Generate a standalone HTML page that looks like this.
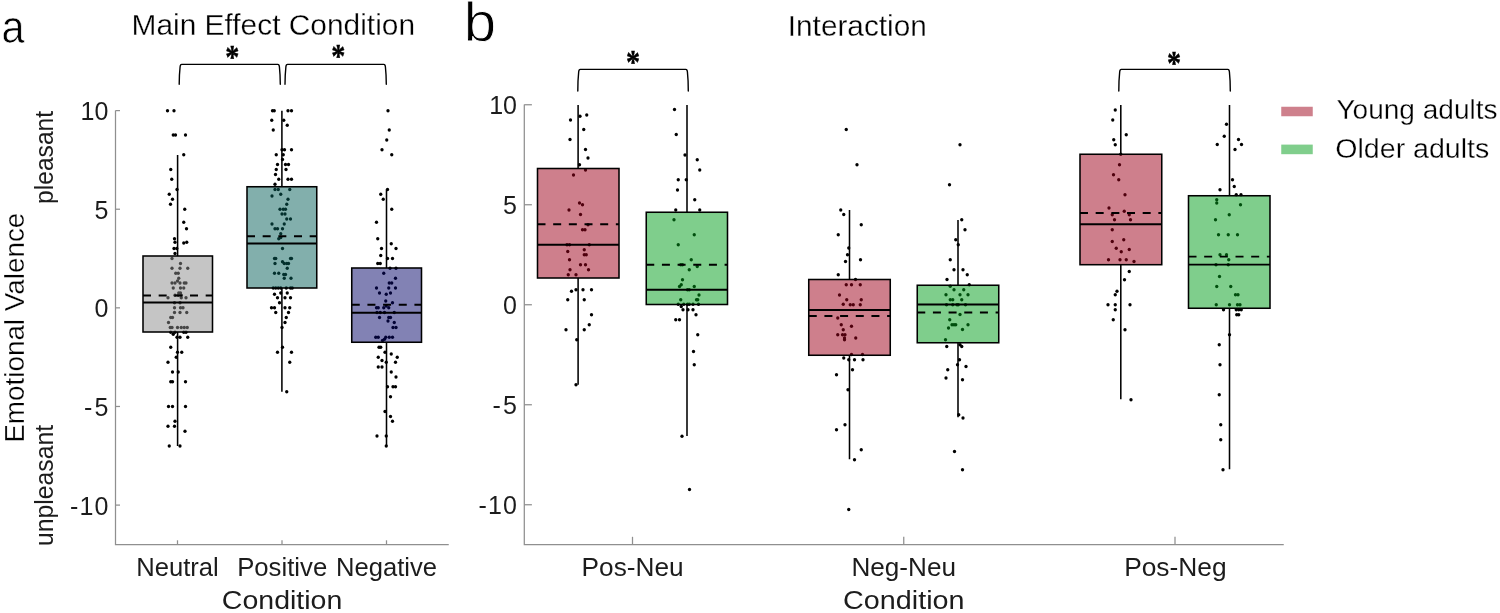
<!DOCTYPE html>
<html><head><meta charset="utf-8"><title>Emotional Valence</title>
<style>
html,body{margin:0;padding:0;background:#fff;}
body{width:1500px;height:613px;overflow:hidden;}
svg{display:block;font-family:"Liberation Sans",Arial,Helvetica,sans-serif;}
</style></head><body>
<svg width="1500" height="613" viewBox="0 0 1500 613">
<rect width="1500" height="613" fill="#fff"/>
<g id="axes"><path d="M115.5,110.6 V544.6 H448.75" fill="none" stroke="#8f8f8f" stroke-width="1.25"/><line x1="115.5" x2="120" y1="110.60000000000002" y2="110.60000000000002" stroke="#8f8f8f" stroke-width="1.25"/><line x1="115.5" x2="120" y1="209.22500000000002" y2="209.22500000000002" stroke="#8f8f8f" stroke-width="1.25"/><line x1="115.5" x2="120" y1="307.85" y2="307.85" stroke="#8f8f8f" stroke-width="1.25"/><line x1="115.5" x2="120" y1="406.475" y2="406.475" stroke="#8f8f8f" stroke-width="1.25"/><line x1="115.5" x2="120" y1="505.1" y2="505.1" stroke="#8f8f8f" stroke-width="1.25"/><line x1="177.5" x2="177.5" y1="544.6" y2="540.3" stroke="#8f8f8f" stroke-width="1.25"/><line x1="282" x2="282" y1="544.6" y2="540.3" stroke="#8f8f8f" stroke-width="1.25"/><line x1="386.5" x2="386.5" y1="544.6" y2="540.3" stroke="#8f8f8f" stroke-width="1.25"/><path d="M524.3,104.6 V544.6 H1283.75" fill="none" stroke="#8f8f8f" stroke-width="1.25"/><line x1="524.3" x2="531.9" y1="104.75" y2="104.75" stroke="#8f8f8f" stroke-width="1.25"/><line x1="524.3" x2="531.9" y1="204.75" y2="204.75" stroke="#8f8f8f" stroke-width="1.25"/><line x1="524.3" x2="531.9" y1="304.75" y2="304.75" stroke="#8f8f8f" stroke-width="1.25"/><line x1="524.3" x2="531.9" y1="404.75" y2="404.75" stroke="#8f8f8f" stroke-width="1.25"/><line x1="524.3" x2="531.9" y1="504.75" y2="504.75" stroke="#8f8f8f" stroke-width="1.25"/><line x1="632.5" x2="632.5" y1="544.6" y2="536.8" stroke="#8f8f8f" stroke-width="1.25"/><line x1="903.75" x2="903.75" y1="544.6" y2="536.8" stroke="#8f8f8f" stroke-width="1.25"/><line x1="1175" x2="1175" y1="544.6" y2="536.8" stroke="#8f8f8f" stroke-width="1.25"/></g>
<g id="dots" fill="#000"><circle cx="167.50" cy="110.75" r="1.65"/><circle cx="174.00" cy="110.75" r="1.65"/><circle cx="173.25" cy="135.00" r="1.65"/><circle cx="175.50" cy="135.00" r="1.65"/><circle cx="185.50" cy="135.00" r="1.65"/><circle cx="183.75" cy="154.75" r="1.65"/><circle cx="170.75" cy="169.50" r="1.65"/><circle cx="171.75" cy="179.25" r="1.65"/><circle cx="177.00" cy="189.50" r="1.65"/><circle cx="272.50" cy="110.75" r="1.65"/><circle cx="274.25" cy="110.75" r="1.65"/><circle cx="288.00" cy="110.75" r="1.65"/><circle cx="291.50" cy="110.75" r="1.65"/><circle cx="271.75" cy="120.25" r="1.65"/><circle cx="283.75" cy="120.25" r="1.65"/><circle cx="287.25" cy="125.25" r="1.65"/><circle cx="273.25" cy="130.00" r="1.65"/><circle cx="282.00" cy="149.75" r="1.65"/><circle cx="284.50" cy="149.75" r="1.65"/><circle cx="291.50" cy="149.75" r="1.65"/><circle cx="276.25" cy="154.75" r="1.65"/><circle cx="283.25" cy="154.75" r="1.65"/><circle cx="282.50" cy="159.50" r="1.65"/><circle cx="277.50" cy="164.50" r="1.65"/><circle cx="285.50" cy="164.50" r="1.65"/><circle cx="288.50" cy="164.50" r="1.65"/><circle cx="276.25" cy="169.50" r="1.65"/><circle cx="286.00" cy="169.50" r="1.65"/><circle cx="275.50" cy="174.50" r="1.65"/><circle cx="278.75" cy="179.25" r="1.65"/><circle cx="288.00" cy="179.25" r="1.65"/><circle cx="291.50" cy="179.25" r="1.65"/><circle cx="275.00" cy="184.25" r="1.65"/><circle cx="275.00" cy="189.50" r="1.65"/><circle cx="278.25" cy="189.50" r="1.65"/><circle cx="289.75" cy="189.50" r="1.65"/><circle cx="388.00" cy="110.75" r="1.65"/><circle cx="389.25" cy="130.00" r="1.65"/><circle cx="386.75" cy="140.00" r="1.65"/><circle cx="382.00" cy="149.75" r="1.65"/><circle cx="391.75" cy="154.75" r="1.65"/><circle cx="387.50" cy="189.50" r="1.65"/><circle cx="169.25" cy="194.25" r="1.65"/><circle cx="172.50" cy="199.25" r="1.65"/><circle cx="170.50" cy="204.25" r="1.65"/><circle cx="184.75" cy="209.25" r="1.65"/><circle cx="183.75" cy="222.25" r="1.65"/><circle cx="186.50" cy="228.75" r="1.65"/><circle cx="174.50" cy="238.75" r="1.65"/><circle cx="175.00" cy="242.25" r="1.65"/><circle cx="183.75" cy="243.00" r="1.65"/><circle cx="186.75" cy="242.25" r="1.65"/><circle cx="174.00" cy="248.50" r="1.65"/><circle cx="176.75" cy="248.50" r="1.65"/><circle cx="175.00" cy="253.50" r="1.65"/><circle cx="172.00" cy="258.50" r="1.65"/><circle cx="180.50" cy="263.50" r="1.65"/><circle cx="172.00" cy="268.25" r="1.65"/><circle cx="180.00" cy="268.25" r="1.65"/><circle cx="187.75" cy="268.25" r="1.65"/><circle cx="175.75" cy="273.25" r="1.65"/><circle cx="178.25" cy="273.25" r="1.65"/><circle cx="178.75" cy="278.25" r="1.65"/><circle cx="172.00" cy="283.00" r="1.65"/><circle cx="175.00" cy="283.00" r="1.65"/><circle cx="177.50" cy="281.00" r="1.65"/><circle cx="180.00" cy="283.00" r="1.65"/><circle cx="184.25" cy="283.00" r="1.65"/><circle cx="186.00" cy="283.00" r="1.65"/><circle cx="173.25" cy="288.00" r="1.65"/><circle cx="180.50" cy="288.00" r="1.65"/><circle cx="183.75" cy="288.00" r="1.65"/><circle cx="178.75" cy="293.00" r="1.65"/><circle cx="180.50" cy="293.00" r="1.65"/><circle cx="175.00" cy="295.25" r="1.65"/><circle cx="178.25" cy="295.25" r="1.65"/><circle cx="181.25" cy="295.25" r="1.65"/><circle cx="168.00" cy="297.75" r="1.65"/><circle cx="181.25" cy="297.75" r="1.65"/><circle cx="186.00" cy="297.75" r="1.65"/><circle cx="174.50" cy="302.75" r="1.65"/><circle cx="180.00" cy="302.75" r="1.65"/><circle cx="174.50" cy="307.75" r="1.65"/><circle cx="180.50" cy="307.75" r="1.65"/><circle cx="183.00" cy="307.75" r="1.65"/><circle cx="174.50" cy="312.50" r="1.65"/><circle cx="180.00" cy="312.50" r="1.65"/><circle cx="186.75" cy="312.50" r="1.65"/><circle cx="170.75" cy="317.50" r="1.65"/><circle cx="172.50" cy="317.50" r="1.65"/><circle cx="168.50" cy="322.50" r="1.65"/><circle cx="170.25" cy="327.50" r="1.65"/><circle cx="172.00" cy="327.50" r="1.65"/><circle cx="177.50" cy="327.50" r="1.65"/><circle cx="181.25" cy="327.50" r="1.65"/><circle cx="184.25" cy="327.50" r="1.65"/><circle cx="187.25" cy="327.50" r="1.65"/><circle cx="170.75" cy="332.25" r="1.65"/><circle cx="173.25" cy="334.25" r="1.65"/><circle cx="175.00" cy="332.25" r="1.65"/><circle cx="183.75" cy="332.25" r="1.65"/><circle cx="186.00" cy="332.25" r="1.65"/><circle cx="177.00" cy="337.25" r="1.65"/><circle cx="180.00" cy="337.25" r="1.65"/><circle cx="187.75" cy="337.25" r="1.65"/><circle cx="272.00" cy="196.00" r="1.65"/><circle cx="280.75" cy="194.25" r="1.65"/><circle cx="288.00" cy="199.25" r="1.65"/><circle cx="286.75" cy="204.25" r="1.65"/><circle cx="280.00" cy="209.25" r="1.65"/><circle cx="283.25" cy="209.25" r="1.65"/><circle cx="285.50" cy="209.25" r="1.65"/><circle cx="282.00" cy="214.00" r="1.65"/><circle cx="285.00" cy="214.00" r="1.65"/><circle cx="286.75" cy="219.00" r="1.65"/><circle cx="290.50" cy="219.00" r="1.65"/><circle cx="272.00" cy="224.00" r="1.65"/><circle cx="284.25" cy="224.00" r="1.65"/><circle cx="275.00" cy="228.75" r="1.65"/><circle cx="277.50" cy="228.75" r="1.65"/><circle cx="282.50" cy="228.75" r="1.65"/><circle cx="280.75" cy="233.75" r="1.65"/><circle cx="278.75" cy="238.75" r="1.65"/><circle cx="280.75" cy="237.50" r="1.65"/><circle cx="282.50" cy="248.50" r="1.65"/><circle cx="274.50" cy="258.50" r="1.65"/><circle cx="275.75" cy="258.50" r="1.65"/><circle cx="290.50" cy="258.50" r="1.65"/><circle cx="291.50" cy="258.50" r="1.65"/><circle cx="282.50" cy="261.75" r="1.65"/><circle cx="275.00" cy="263.50" r="1.65"/><circle cx="284.25" cy="263.50" r="1.65"/><circle cx="286.75" cy="263.50" r="1.65"/><circle cx="288.50" cy="263.50" r="1.65"/><circle cx="287.25" cy="268.25" r="1.65"/><circle cx="274.50" cy="273.25" r="1.65"/><circle cx="278.75" cy="273.25" r="1.65"/><circle cx="283.75" cy="274.50" r="1.65"/><circle cx="285.50" cy="274.50" r="1.65"/><circle cx="284.25" cy="278.25" r="1.65"/><circle cx="291.00" cy="278.25" r="1.65"/><circle cx="273.25" cy="288.00" r="1.65"/><circle cx="275.75" cy="288.00" r="1.65"/><circle cx="278.25" cy="288.00" r="1.65"/><circle cx="280.75" cy="288.00" r="1.65"/><circle cx="286.25" cy="288.00" r="1.65"/><circle cx="290.50" cy="288.00" r="1.65"/><circle cx="292.25" cy="288.00" r="1.65"/><circle cx="274.50" cy="294.25" r="1.65"/><circle cx="280.75" cy="293.00" r="1.65"/><circle cx="287.25" cy="293.00" r="1.65"/><circle cx="277.50" cy="297.75" r="1.65"/><circle cx="285.00" cy="297.75" r="1.65"/><circle cx="290.50" cy="297.75" r="1.65"/><circle cx="279.50" cy="302.75" r="1.65"/><circle cx="271.50" cy="307.75" r="1.65"/><circle cx="274.50" cy="307.75" r="1.65"/><circle cx="285.00" cy="307.75" r="1.65"/><circle cx="289.75" cy="307.75" r="1.65"/><circle cx="275.75" cy="312.50" r="1.65"/><circle cx="288.50" cy="312.50" r="1.65"/><circle cx="286.25" cy="317.50" r="1.65"/><circle cx="285.00" cy="322.50" r="1.65"/><circle cx="282.00" cy="327.50" r="1.65"/><circle cx="380.75" cy="194.25" r="1.65"/><circle cx="383.25" cy="199.25" r="1.65"/><circle cx="391.75" cy="209.25" r="1.65"/><circle cx="376.50" cy="222.25" r="1.65"/><circle cx="377.75" cy="238.75" r="1.65"/><circle cx="391.25" cy="243.75" r="1.65"/><circle cx="381.50" cy="248.50" r="1.65"/><circle cx="396.00" cy="248.50" r="1.65"/><circle cx="380.75" cy="255.50" r="1.65"/><circle cx="387.50" cy="258.50" r="1.65"/><circle cx="392.50" cy="258.50" r="1.65"/><circle cx="377.75" cy="263.50" r="1.65"/><circle cx="380.25" cy="263.50" r="1.65"/><circle cx="390.00" cy="268.25" r="1.65"/><circle cx="396.00" cy="268.25" r="1.65"/><circle cx="383.75" cy="273.25" r="1.65"/><circle cx="395.50" cy="278.25" r="1.65"/><circle cx="389.25" cy="283.00" r="1.65"/><circle cx="391.75" cy="283.00" r="1.65"/><circle cx="376.50" cy="288.00" r="1.65"/><circle cx="388.75" cy="288.00" r="1.65"/><circle cx="395.50" cy="288.00" r="1.65"/><circle cx="379.50" cy="293.00" r="1.65"/><circle cx="386.25" cy="294.25" r="1.65"/><circle cx="390.50" cy="293.00" r="1.65"/><circle cx="385.75" cy="301.00" r="1.65"/><circle cx="392.50" cy="302.75" r="1.65"/><circle cx="376.50" cy="307.75" r="1.65"/><circle cx="378.25" cy="307.75" r="1.65"/><circle cx="383.75" cy="307.75" r="1.65"/><circle cx="386.25" cy="306.00" r="1.65"/><circle cx="388.75" cy="307.75" r="1.65"/><circle cx="377.00" cy="312.50" r="1.65"/><circle cx="380.25" cy="312.50" r="1.65"/><circle cx="384.50" cy="312.50" r="1.65"/><circle cx="394.25" cy="312.50" r="1.65"/><circle cx="379.50" cy="317.50" r="1.65"/><circle cx="388.75" cy="317.50" r="1.65"/><circle cx="390.50" cy="317.50" r="1.65"/><circle cx="388.00" cy="321.00" r="1.65"/><circle cx="394.25" cy="322.50" r="1.65"/><circle cx="393.00" cy="327.50" r="1.65"/><circle cx="396.00" cy="327.50" r="1.65"/><circle cx="375.75" cy="337.25" r="1.65"/><circle cx="378.25" cy="337.25" r="1.65"/><circle cx="385.75" cy="337.25" r="1.65"/><circle cx="389.25" cy="337.25" r="1.65"/><circle cx="392.50" cy="337.25" r="1.65"/><circle cx="382.50" cy="340.50" r="1.65"/><circle cx="384.50" cy="339.25" r="1.65"/><circle cx="170.75" cy="347.25" r="1.65"/><circle cx="177.50" cy="352.25" r="1.65"/><circle cx="181.75" cy="352.25" r="1.65"/><circle cx="176.25" cy="357.25" r="1.65"/><circle cx="168.00" cy="362.25" r="1.65"/><circle cx="172.50" cy="372.00" r="1.65"/><circle cx="178.25" cy="372.00" r="1.65"/><circle cx="170.75" cy="381.75" r="1.65"/><circle cx="172.50" cy="381.75" r="1.65"/><circle cx="185.50" cy="381.75" r="1.65"/><circle cx="168.50" cy="406.50" r="1.65"/><circle cx="172.50" cy="406.50" r="1.65"/><circle cx="185.50" cy="406.50" r="1.65"/><circle cx="175.00" cy="421.25" r="1.65"/><circle cx="168.00" cy="426.25" r="1.65"/><circle cx="174.50" cy="426.25" r="1.65"/><circle cx="185.00" cy="431.25" r="1.65"/><circle cx="169.25" cy="446.00" r="1.65"/><circle cx="180.00" cy="446.00" r="1.65"/><circle cx="282.50" cy="347.25" r="1.65"/><circle cx="277.50" cy="352.25" r="1.65"/><circle cx="291.50" cy="352.25" r="1.65"/><circle cx="289.75" cy="362.25" r="1.65"/><circle cx="286.75" cy="391.75" r="1.65"/><circle cx="379.00" cy="347.25" r="1.65"/><circle cx="380.75" cy="347.25" r="1.65"/><circle cx="385.00" cy="352.25" r="1.65"/><circle cx="391.25" cy="354.00" r="1.65"/><circle cx="378.25" cy="357.25" r="1.65"/><circle cx="397.25" cy="357.25" r="1.65"/><circle cx="382.00" cy="360.50" r="1.65"/><circle cx="386.25" cy="362.25" r="1.65"/><circle cx="395.50" cy="362.25" r="1.65"/><circle cx="378.25" cy="367.00" r="1.65"/><circle cx="382.00" cy="367.00" r="1.65"/><circle cx="391.25" cy="372.00" r="1.65"/><circle cx="396.00" cy="377.00" r="1.65"/><circle cx="387.50" cy="386.75" r="1.65"/><circle cx="393.00" cy="386.75" r="1.65"/><circle cx="395.50" cy="386.75" r="1.65"/><circle cx="390.50" cy="396.75" r="1.65"/><circle cx="385.00" cy="411.50" r="1.65"/><circle cx="390.50" cy="416.50" r="1.65"/><circle cx="392.50" cy="421.25" r="1.65"/><circle cx="377.00" cy="436.00" r="1.65"/><circle cx="386.25" cy="436.00" r="1.65"/><circle cx="386.25" cy="446.00" r="1.65"/><circle cx="570.50" cy="120.00" r="1.65"/><circle cx="580.00" cy="116.25" r="1.65"/><circle cx="586.75" cy="115.00" r="1.65"/><circle cx="583.75" cy="129.50" r="1.65"/><circle cx="570.00" cy="139.50" r="1.65"/><circle cx="585.50" cy="149.50" r="1.65"/><circle cx="674.50" cy="109.50" r="1.65"/><circle cx="676.25" cy="134.50" r="1.65"/><circle cx="846.25" cy="129.50" r="1.65"/><circle cx="588.00" cy="158.00" r="1.65"/><circle cx="579.50" cy="164.75" r="1.65"/><circle cx="585.50" cy="170.00" r="1.65"/><circle cx="573.50" cy="175.00" r="1.65"/><circle cx="579.50" cy="203.00" r="1.65"/><circle cx="582.50" cy="204.75" r="1.65"/><circle cx="569.00" cy="210.00" r="1.65"/><circle cx="580.50" cy="214.50" r="1.65"/><circle cx="588.00" cy="224.75" r="1.65"/><circle cx="582.50" cy="229.75" r="1.65"/><circle cx="585.00" cy="229.75" r="1.65"/><circle cx="567.00" cy="244.75" r="1.65"/><circle cx="569.50" cy="244.75" r="1.65"/><circle cx="589.25" cy="244.75" r="1.65"/><circle cx="584.25" cy="249.75" r="1.65"/><circle cx="567.75" cy="251.50" r="1.65"/><circle cx="584.25" cy="254.75" r="1.65"/><circle cx="586.25" cy="254.75" r="1.65"/><circle cx="569.50" cy="259.75" r="1.65"/><circle cx="580.50" cy="264.75" r="1.65"/><circle cx="585.50" cy="264.75" r="1.65"/><circle cx="570.00" cy="269.75" r="1.65"/><circle cx="588.50" cy="269.75" r="1.65"/><circle cx="568.25" cy="274.75" r="1.65"/><circle cx="576.00" cy="274.75" r="1.65"/><circle cx="571.50" cy="291.25" r="1.65"/><circle cx="576.00" cy="289.75" r="1.65"/><circle cx="583.00" cy="289.75" r="1.65"/><circle cx="591.50" cy="289.75" r="1.65"/><circle cx="567.75" cy="299.75" r="1.65"/><circle cx="584.25" cy="299.75" r="1.65"/><circle cx="685.00" cy="155.00" r="1.65"/><circle cx="697.25" cy="159.75" r="1.65"/><circle cx="699.75" cy="170.00" r="1.65"/><circle cx="678.25" cy="179.75" r="1.65"/><circle cx="686.25" cy="179.75" r="1.65"/><circle cx="677.50" cy="190.00" r="1.65"/><circle cx="694.75" cy="199.75" r="1.65"/><circle cx="675.75" cy="210.00" r="1.65"/><circle cx="699.75" cy="210.00" r="1.65"/><circle cx="674.00" cy="219.75" r="1.65"/><circle cx="694.25" cy="234.75" r="1.65"/><circle cx="678.25" cy="244.75" r="1.65"/><circle cx="691.25" cy="259.75" r="1.65"/><circle cx="680.75" cy="264.75" r="1.65"/><circle cx="682.50" cy="264.75" r="1.65"/><circle cx="697.25" cy="266.50" r="1.65"/><circle cx="689.25" cy="269.75" r="1.65"/><circle cx="682.50" cy="279.75" r="1.65"/><circle cx="681.25" cy="284.75" r="1.65"/><circle cx="679.50" cy="286.50" r="1.65"/><circle cx="694.25" cy="286.50" r="1.65"/><circle cx="687.50" cy="289.75" r="1.65"/><circle cx="689.25" cy="289.75" r="1.65"/><circle cx="699.00" cy="295.00" r="1.65"/><circle cx="680.75" cy="299.75" r="1.65"/><circle cx="696.50" cy="299.75" r="1.65"/><circle cx="697.75" cy="299.75" r="1.65"/><circle cx="678.25" cy="304.25" r="1.65"/><circle cx="683.75" cy="304.25" r="1.65"/><circle cx="687.50" cy="304.25" r="1.65"/><circle cx="689.25" cy="304.25" r="1.65"/><circle cx="693.00" cy="304.25" r="1.65"/><circle cx="698.50" cy="304.25" r="1.65"/><circle cx="840.75" cy="210.00" r="1.65"/><circle cx="843.75" cy="214.50" r="1.65"/><circle cx="838.25" cy="234.75" r="1.65"/><circle cx="848.75" cy="248.00" r="1.65"/><circle cx="847.50" cy="254.75" r="1.65"/><circle cx="845.50" cy="261.50" r="1.65"/><circle cx="838.25" cy="274.75" r="1.65"/><circle cx="846.25" cy="284.75" r="1.65"/><circle cx="839.50" cy="295.00" r="1.65"/><circle cx="846.75" cy="299.75" r="1.65"/><circle cx="843.25" cy="304.25" r="1.65"/><circle cx="591.50" cy="314.75" r="1.65"/><circle cx="589.25" cy="324.75" r="1.65"/><circle cx="566.00" cy="329.75" r="1.65"/><circle cx="584.25" cy="329.75" r="1.65"/><circle cx="576.75" cy="339.75" r="1.65"/><circle cx="576.00" cy="384.75" r="1.65"/><circle cx="681.25" cy="306.50" r="1.65"/><circle cx="683.00" cy="309.75" r="1.65"/><circle cx="688.00" cy="309.75" r="1.65"/><circle cx="693.00" cy="309.75" r="1.65"/><circle cx="696.00" cy="314.75" r="1.65"/><circle cx="675.75" cy="319.75" r="1.65"/><circle cx="679.50" cy="319.75" r="1.65"/><circle cx="697.75" cy="334.75" r="1.65"/><circle cx="693.50" cy="351.50" r="1.65"/><circle cx="694.25" cy="364.75" r="1.65"/><circle cx="682.00" cy="436.25" r="1.65"/><circle cx="837.75" cy="318.00" r="1.65"/><circle cx="841.25" cy="324.75" r="1.65"/><circle cx="843.25" cy="329.75" r="1.65"/><circle cx="837.75" cy="334.75" r="1.65"/><circle cx="842.50" cy="334.75" r="1.65"/><circle cx="845.00" cy="334.75" r="1.65"/><circle cx="844.50" cy="338.00" r="1.65"/><circle cx="844.50" cy="339.75" r="1.65"/><circle cx="843.75" cy="358.00" r="1.65"/><circle cx="848.75" cy="359.75" r="1.65"/><circle cx="836.50" cy="374.75" r="1.65"/><circle cx="848.00" cy="389.75" r="1.65"/><circle cx="845.00" cy="424.75" r="1.65"/><circle cx="836.50" cy="429.75" r="1.65"/><circle cx="689.50" cy="489.50" r="1.65"/><circle cx="848.75" cy="509.50" r="1.65"/><circle cx="857.00" cy="164.75" r="1.65"/><circle cx="861.25" cy="224.75" r="1.65"/><circle cx="960.00" cy="144.75" r="1.65"/><circle cx="949.50" cy="184.75" r="1.65"/><circle cx="961.75" cy="219.75" r="1.65"/><circle cx="965.00" cy="229.75" r="1.65"/><circle cx="955.75" cy="239.75" r="1.65"/><circle cx="958.25" cy="244.75" r="1.65"/><circle cx="1115.25" cy="110.00" r="1.65"/><circle cx="1112.75" cy="120.00" r="1.65"/><circle cx="1126.25" cy="134.75" r="1.65"/><circle cx="1113.75" cy="139.75" r="1.65"/><circle cx="1115.25" cy="144.75" r="1.65"/><circle cx="1120.75" cy="154.25" r="1.65"/><circle cx="1119.50" cy="164.75" r="1.65"/><circle cx="1113.50" cy="174.75" r="1.65"/><circle cx="1118.75" cy="179.75" r="1.65"/><circle cx="1125.00" cy="194.75" r="1.65"/><circle cx="1109.00" cy="208.00" r="1.65"/><circle cx="1124.25" cy="211.25" r="1.65"/><circle cx="1112.25" cy="214.75" r="1.65"/><circle cx="1129.25" cy="214.75" r="1.65"/><circle cx="1114.50" cy="219.75" r="1.65"/><circle cx="1130.50" cy="219.75" r="1.65"/><circle cx="1112.25" cy="229.75" r="1.65"/><circle cx="1123.75" cy="239.75" r="1.65"/><circle cx="1112.25" cy="241.50" r="1.65"/><circle cx="1116.25" cy="248.25" r="1.65"/><circle cx="1129.25" cy="249.50" r="1.65"/><circle cx="1121.25" cy="251.75" r="1.65"/><circle cx="860.50" cy="259.75" r="1.65"/><circle cx="855.50" cy="279.50" r="1.65"/><circle cx="851.50" cy="284.75" r="1.65"/><circle cx="860.25" cy="284.75" r="1.65"/><circle cx="861.25" cy="299.75" r="1.65"/><circle cx="850.25" cy="304.75" r="1.65"/><circle cx="853.25" cy="304.75" r="1.65"/><circle cx="860.25" cy="304.75" r="1.65"/><circle cx="851.50" cy="326.25" r="1.65"/><circle cx="855.75" cy="338.00" r="1.65"/><circle cx="851.50" cy="354.50" r="1.65"/><circle cx="862.50" cy="354.50" r="1.65"/><circle cx="854.50" cy="359.75" r="1.65"/><circle cx="863.00" cy="359.75" r="1.65"/><circle cx="852.50" cy="369.75" r="1.65"/><circle cx="950.25" cy="259.75" r="1.65"/><circle cx="954.00" cy="269.75" r="1.65"/><circle cx="963.00" cy="269.75" r="1.65"/><circle cx="967.25" cy="274.75" r="1.65"/><circle cx="947.00" cy="279.50" r="1.65"/><circle cx="969.25" cy="284.75" r="1.65"/><circle cx="950.25" cy="286.25" r="1.65"/><circle cx="954.00" cy="289.75" r="1.65"/><circle cx="963.75" cy="289.75" r="1.65"/><circle cx="946.00" cy="294.75" r="1.65"/><circle cx="960.00" cy="294.75" r="1.65"/><circle cx="968.00" cy="294.75" r="1.65"/><circle cx="950.25" cy="299.75" r="1.65"/><circle cx="952.75" cy="299.75" r="1.65"/><circle cx="961.75" cy="299.75" r="1.65"/><circle cx="946.50" cy="304.75" r="1.65"/><circle cx="952.75" cy="304.75" r="1.65"/><circle cx="957.00" cy="304.75" r="1.65"/><circle cx="958.25" cy="304.75" r="1.65"/><circle cx="965.50" cy="304.75" r="1.65"/><circle cx="960.00" cy="314.50" r="1.65"/><circle cx="949.75" cy="319.75" r="1.65"/><circle cx="952.00" cy="324.75" r="1.65"/><circle cx="954.00" cy="324.75" r="1.65"/><circle cx="955.75" cy="324.75" r="1.65"/><circle cx="968.00" cy="324.75" r="1.65"/><circle cx="948.50" cy="328.00" r="1.65"/><circle cx="962.50" cy="329.50" r="1.65"/><circle cx="945.50" cy="339.75" r="1.65"/><circle cx="946.75" cy="346.50" r="1.65"/><circle cx="960.00" cy="344.75" r="1.65"/><circle cx="961.75" cy="346.50" r="1.65"/><circle cx="959.50" cy="359.75" r="1.65"/><circle cx="957.50" cy="364.75" r="1.65"/><circle cx="966.00" cy="366.50" r="1.65"/><circle cx="947.75" cy="369.75" r="1.65"/><circle cx="946.00" cy="378.00" r="1.65"/><circle cx="962.50" cy="379.75" r="1.65"/><circle cx="1108.50" cy="259.75" r="1.65"/><circle cx="1120.00" cy="259.75" r="1.65"/><circle cx="1126.25" cy="259.75" r="1.65"/><circle cx="1134.00" cy="261.50" r="1.65"/><circle cx="1129.25" cy="271.50" r="1.65"/><circle cx="1124.50" cy="279.75" r="1.65"/><circle cx="1117.00" cy="291.25" r="1.65"/><circle cx="1115.25" cy="294.75" r="1.65"/><circle cx="1108.00" cy="304.75" r="1.65"/><circle cx="1115.25" cy="304.75" r="1.65"/><circle cx="1130.00" cy="304.75" r="1.65"/><circle cx="1115.25" cy="309.75" r="1.65"/><circle cx="1113.25" cy="319.75" r="1.65"/><circle cx="1125.00" cy="329.75" r="1.65"/><circle cx="1131.00" cy="399.75" r="1.65"/><circle cx="861.25" cy="449.75" r="1.65"/><circle cx="854.50" cy="459.75" r="1.65"/><circle cx="958.75" cy="414.75" r="1.65"/><circle cx="963.00" cy="418.00" r="1.65"/><circle cx="954.50" cy="451.50" r="1.65"/><circle cx="962.50" cy="469.75" r="1.65"/><circle cx="1226.50" cy="124.25" r="1.65"/><circle cx="1224.25" cy="136.25" r="1.65"/><circle cx="1217.25" cy="144.50" r="1.65"/><circle cx="1238.50" cy="139.50" r="1.65"/><circle cx="1241.50" cy="144.50" r="1.65"/><circle cx="1235.00" cy="149.50" r="1.65"/><circle cx="1232.50" cy="179.75" r="1.65"/><circle cx="1234.25" cy="186.50" r="1.65"/><circle cx="1220.00" cy="189.75" r="1.65"/><circle cx="1236.25" cy="194.75" r="1.65"/><circle cx="1241.00" cy="194.75" r="1.65"/><circle cx="1216.75" cy="199.75" r="1.65"/><circle cx="1216.75" cy="203.00" r="1.65"/><circle cx="1240.50" cy="204.75" r="1.65"/><circle cx="1229.25" cy="214.75" r="1.65"/><circle cx="1215.50" cy="219.75" r="1.65"/><circle cx="1218.50" cy="234.75" r="1.65"/><circle cx="1228.25" cy="234.75" r="1.65"/><circle cx="1237.50" cy="234.75" r="1.65"/><circle cx="1220.00" cy="254.75" r="1.65"/><circle cx="1226.50" cy="254.75" r="1.65"/><circle cx="1228.75" cy="259.75" r="1.65"/><circle cx="1216.00" cy="264.75" r="1.65"/><circle cx="1228.25" cy="264.75" r="1.65"/><circle cx="1219.50" cy="276.50" r="1.65"/><circle cx="1216.75" cy="286.50" r="1.65"/><circle cx="1230.75" cy="286.50" r="1.65"/><circle cx="1235.50" cy="294.75" r="1.65"/><circle cx="1238.00" cy="294.75" r="1.65"/><circle cx="1216.25" cy="304.75" r="1.65"/><circle cx="1229.50" cy="304.75" r="1.65"/><circle cx="1237.50" cy="304.75" r="1.65"/><circle cx="1240.00" cy="304.75" r="1.65"/><circle cx="1223.50" cy="309.75" r="1.65"/><circle cx="1236.25" cy="309.75" r="1.65"/><circle cx="1238.75" cy="309.75" r="1.65"/><circle cx="1241.25" cy="309.75" r="1.65"/><circle cx="1236.75" cy="314.75" r="1.65"/><circle cx="1238.75" cy="314.75" r="1.65"/><circle cx="1229.50" cy="334.75" r="1.65"/><circle cx="1219.25" cy="344.75" r="1.65"/><circle cx="1220.00" cy="364.75" r="1.65"/><circle cx="1219.25" cy="394.75" r="1.65"/><circle cx="1220.75" cy="424.75" r="1.65"/><circle cx="1220.75" cy="439.75" r="1.65"/><circle cx="1223.00" cy="469.75" r="1.65"/></g>
<g id="boxes"><line x1="177.6" y1="155" x2="177.6" y2="256" stroke="#000" stroke-width="1.55"/><line x1="177.6" y1="332" x2="177.6" y2="446" stroke="#000" stroke-width="1.55"/><rect x="143" y="256" width="69.5" height="76" fill="#8c8c8c" fill-opacity="0.5" stroke="none"/><rect x="143" y="256" width="69.5" height="76" fill="none" stroke="#000" stroke-width="1.55"/><line x1="143" y1="302.5" x2="212.5" y2="302.5" stroke="#000" stroke-width="1.8"/><line x1="143" y1="295.5" x2="212.5" y2="295.5" stroke="#000" stroke-width="1.8" stroke-dasharray="8 7.67"/><line x1="281.9" y1="110.75" x2="281.9" y2="186.75" stroke="#000" stroke-width="1.55"/><line x1="281.9" y1="288" x2="281.9" y2="391.75" stroke="#000" stroke-width="1.55"/><rect x="247" y="186.75" width="69.75" height="101.25" fill="#055f59" fill-opacity="0.5" stroke="none"/><rect x="247" y="186.75" width="69.75" height="101.25" fill="none" stroke="#000" stroke-width="1.55"/><line x1="247" y1="243.5" x2="316.75" y2="243.5" stroke="#000" stroke-width="1.8"/><line x1="247" y1="236.25" x2="316.75" y2="236.25" stroke="#000" stroke-width="1.8" stroke-dasharray="8 7.67"/><line x1="386.5" y1="189.5" x2="386.5" y2="268" stroke="#000" stroke-width="1.55"/><line x1="386.5" y1="342.25" x2="386.5" y2="446" stroke="#000" stroke-width="1.55"/><rect x="351.75" y="268" width="69.75" height="74.25" fill="#050569" fill-opacity="0.5" stroke="none"/><rect x="351.75" y="268" width="69.75" height="74.25" fill="none" stroke="#000" stroke-width="1.55"/><line x1="351.75" y1="312.75" x2="421.5" y2="312.75" stroke="#000" stroke-width="1.8"/><line x1="351.75" y1="304.75" x2="421.5" y2="304.75" stroke="#000" stroke-width="1.8" stroke-dasharray="8 7.67"/><line x1="578.1" y1="105" x2="578.1" y2="168.5" stroke="#000" stroke-width="1.55"/><line x1="578.1" y1="278" x2="578.1" y2="384.75" stroke="#000" stroke-width="1.55"/><rect x="537.5" y="168.5" width="81.5" height="109.5" fill="#9d0019" fill-opacity="0.5" stroke="none"/><rect x="537.5" y="168.5" width="81.5" height="109.5" fill="none" stroke="#000" stroke-width="1.55"/><line x1="537.5" y1="244.75" x2="619" y2="244.75" stroke="#000" stroke-width="1.8"/><line x1="537.5" y1="224.25" x2="619" y2="224.25" stroke="#000" stroke-width="1.8" stroke-dasharray="8 7.67"/><line x1="687" y1="105" x2="687" y2="212.25" stroke="#000" stroke-width="1.55"/><line x1="687" y1="304.5" x2="687" y2="436" stroke="#000" stroke-width="1.55"/><rect x="646.25" y="212.25" width="81.25" height="92.25" fill="#009d19" fill-opacity="0.5" stroke="none"/><rect x="646.25" y="212.25" width="81.25" height="92.25" fill="none" stroke="#000" stroke-width="1.55"/><line x1="646.25" y1="289.75" x2="727.5" y2="289.75" stroke="#000" stroke-width="1.8"/><line x1="646.25" y1="264.75" x2="727.5" y2="264.75" stroke="#000" stroke-width="1.8" stroke-dasharray="8 7.67"/><line x1="849.5" y1="210" x2="849.5" y2="279.5" stroke="#000" stroke-width="1.55"/><line x1="849.5" y1="355.25" x2="849.5" y2="459.25" stroke="#000" stroke-width="1.55"/><rect x="808.75" y="279.5" width="81.5" height="75.75" fill="#9d0019" fill-opacity="0.5" stroke="none"/><rect x="808.75" y="279.5" width="81.5" height="75.75" fill="none" stroke="#000" stroke-width="1.55"/><line x1="808.75" y1="310" x2="890.25" y2="310" stroke="#000" stroke-width="1.8"/><line x1="808.75" y1="316" x2="890.25" y2="316" stroke="#000" stroke-width="1.8" stroke-dasharray="8 7.67"/><line x1="958" y1="220" x2="958" y2="285.25" stroke="#000" stroke-width="1.55"/><line x1="958" y1="342.75" x2="958" y2="417.25" stroke="#000" stroke-width="1.55"/><rect x="917.25" y="285.25" width="81.5" height="57.5" fill="#009d19" fill-opacity="0.5" stroke="none"/><rect x="917.25" y="285.25" width="81.5" height="57.5" fill="none" stroke="#000" stroke-width="1.55"/><line x1="917.25" y1="304.5" x2="998.75" y2="304.5" stroke="#000" stroke-width="1.8"/><line x1="917.25" y1="312.5" x2="998.75" y2="312.5" stroke="#000" stroke-width="1.8" stroke-dasharray="8 7.67"/><line x1="1120.8" y1="105" x2="1120.8" y2="154.25" stroke="#000" stroke-width="1.55"/><line x1="1120.8" y1="264.7" x2="1120.8" y2="399.25" stroke="#000" stroke-width="1.55"/><rect x="1080" y="154.25" width="81.75" height="110.44999999999999" fill="#9d0019" fill-opacity="0.5" stroke="none"/><rect x="1080" y="154.25" width="81.75" height="110.44999999999999" fill="none" stroke="#000" stroke-width="1.55"/><line x1="1080" y1="224.25" x2="1161.75" y2="224.25" stroke="#000" stroke-width="1.8"/><line x1="1080" y1="213" x2="1161.75" y2="213" stroke="#000" stroke-width="1.8" stroke-dasharray="8 7.67"/><line x1="1229.5" y1="105" x2="1229.5" y2="195.75" stroke="#000" stroke-width="1.55"/><line x1="1229.5" y1="308.25" x2="1229.5" y2="469.25" stroke="#000" stroke-width="1.55"/><rect x="1188.5" y="195.75" width="81.5" height="112.5" fill="#009d19" fill-opacity="0.5" stroke="none"/><rect x="1188.5" y="195.75" width="81.5" height="112.5" fill="none" stroke="#000" stroke-width="1.55"/><line x1="1188.5" y1="264.7" x2="1270" y2="264.7" stroke="#000" stroke-width="1.8"/><line x1="1188.5" y1="256.7" x2="1270" y2="256.7" stroke="#000" stroke-width="1.8" stroke-dasharray="8 7.67"/></g>
<g id="brackets"><path d="M179.2,84.3 C179.2,76.3 179.5,72.4 180.1,66.80000000000001 Q180.29999999999998,64.4 181.7,64.4 L277.8,64.4 Q279.2,64.4 279.40000000000003,66.80000000000001 C280.0,72.4 280.3,76.3 280.3,84.3" fill="none" stroke="#000" stroke-width="1.4" stroke-linecap="round" stroke-linejoin="round"/><path d="M285.0,84.3 C285.0,76.3 285.3,72.4 285.9,66.80000000000001 Q286.1,64.4 287.5,64.4 L383.8,64.4 Q385.2,64.4 385.40000000000003,66.80000000000001 C386.0,72.4 386.3,76.3 386.3,84.3" fill="none" stroke="#000" stroke-width="1.4" stroke-linecap="round" stroke-linejoin="round"/><path d="M577.8,91.0 C577.8,83.0 578.0999999999999,77.4 578.6999999999999,71.80000000000001 Q578.9,69.4 580.3,69.4 L685.8,69.4 Q687.1999999999999,69.4 687.4,71.80000000000001 C688.0,77.4 688.3,83.0 688.3,91.0" fill="none" stroke="#000" stroke-width="1.4" stroke-linecap="round" stroke-linejoin="round"/><path d="M1118.8,91.0 C1118.8,83.0 1119.1,77.4 1119.7,71.80000000000001 Q1119.8999999999999,69.4 1121.3,69.4 L1227.8,69.4 Q1229.2,69.4 1229.3999999999999,71.80000000000001 C1230.0,77.4 1230.3,83.0 1230.3,91.0" fill="none" stroke="#000" stroke-width="1.4" stroke-linecap="round" stroke-linejoin="round"/></g>
<g id="legend"><rect x="1281.25" y="106.75" width="31.5" height="9.5" fill="#ce808c"/><rect x="1281.25" y="144.6" width="31.5" height="9.6" fill="#80ce8c"/></g>
<g id="labels"><text id="la" transform="translate(1.6,42.8) scale(0.9,1)" font-size="46" stroke="#fff" stroke-width="0.7">a</text><text id="lb" transform="translate(463.7,41.0) scale(1.13,1.06)" font-size="51.5" stroke="#fff" stroke-width="0.8">b</text><text x="273.3" y="35.3" font-size="30" text-anchor="middle" fill="#000" id="ta" textLength="283.5" lengthAdjust="spacingAndGlyphs" stroke="#fff" stroke-width="0.3">Main Effect Condition</text><text x="857.3" y="35.6" font-size="29.6" text-anchor="middle" fill="#000" id="tb" textLength="139" lengthAdjust="spacingAndGlyphs" stroke="#fff" stroke-width="0.3">Interaction</text><text x="108.4" y="120.10000000000002" font-size="25" text-anchor="end" fill="#1c1c1c" >10</text><text x="517.0" y="114.15" font-size="25" text-anchor="end" fill="#1c1c1c" >10</text><text x="108.4" y="218.72500000000002" font-size="25" text-anchor="end" fill="#1c1c1c" >5</text><text x="517.0" y="214.15" font-size="25" text-anchor="end" fill="#1c1c1c" >5</text><text x="108.4" y="317.35" font-size="25" text-anchor="end" fill="#1c1c1c" >0</text><text x="517.0" y="314.15" font-size="25" text-anchor="end" fill="#1c1c1c" >0</text><text x="108.4" y="415.975" font-size="25" text-anchor="end" fill="#1c1c1c" textLength="24.5" lengthAdjust="spacing">-5</text><text x="517.0" y="414.15" font-size="25" text-anchor="end" fill="#1c1c1c" textLength="24.5" lengthAdjust="spacing">-5</text><text x="108.4" y="514.6" font-size="25" text-anchor="end" fill="#1c1c1c" textLength="38.4" lengthAdjust="spacing">-10</text><text x="517.0" y="514.15" font-size="25" text-anchor="end" fill="#1c1c1c" textLength="38.4" lengthAdjust="spacing">-10</text><text x="177.5" y="576.1" font-size="25" text-anchor="middle" fill="#1c1c1c" class="xt" textLength="82.6" lengthAdjust="spacingAndGlyphs">Neutral</text><text x="282.2" y="576.1" font-size="25" text-anchor="middle" fill="#1c1c1c" class="xt" textLength="90" lengthAdjust="spacingAndGlyphs">Positive</text><text x="386.5" y="576.1" font-size="25" text-anchor="middle" fill="#1c1c1c" class="xt" textLength="101" lengthAdjust="spacingAndGlyphs">Negative</text><text x="632.6" y="576.1" font-size="25" text-anchor="middle" fill="#1c1c1c" class="xt" textLength="102" lengthAdjust="spacingAndGlyphs">Pos-Neu</text><text x="903.7" y="576.1" font-size="25" text-anchor="middle" fill="#1c1c1c" class="xt" textLength="104.6" lengthAdjust="spacingAndGlyphs">Neg-Neu</text><text x="1175.4" y="576.1" font-size="25" text-anchor="middle" fill="#1c1c1c" class="xt" textLength="102.5" lengthAdjust="spacingAndGlyphs">Pos-Neg</text><text x="282.1" y="609" font-size="26.5" text-anchor="middle" fill="#1c1c1c" id="ca" textLength="120.5" lengthAdjust="spacingAndGlyphs">Condition</text><text x="903.8" y="609" font-size="26.5" text-anchor="middle" fill="#1c1c1c" id="cb" textLength="121.5" lengthAdjust="spacingAndGlyphs">Condition</text><text transform="translate(24.2,327.7) rotate(-90)" font-size="27.5" text-anchor="middle" fill="#000" id="ev" textLength="230" lengthAdjust="spacingAndGlyphs" stroke="#fff" stroke-width="0.3">Emotional Valence</text><text transform="translate(52.6,157.4) rotate(-90)" font-size="25" text-anchor="middle" fill="#1c1c1c" id="pl" textLength="93" lengthAdjust="spacingAndGlyphs">pleasant</text><text transform="translate(52.7,485.4) rotate(-90)" font-size="25" text-anchor="middle" fill="#1c1c1c" id="upl" textLength="121" lengthAdjust="spacingAndGlyphs">unpleasant</text><text transform="translate(232.25,52.75) scale(1,1.2)" y="13.1" font-family="Liberation Serif, serif" font-size="28.2" font-weight="bold" text-anchor="middle" class="star" stroke="#000" stroke-width="0.35">*</text><text transform="translate(338.25,51.55) scale(1,1.2)" y="13.1" font-family="Liberation Serif, serif" font-size="28.2" font-weight="bold" text-anchor="middle" class="star" stroke="#000" stroke-width="0.35">*</text><text transform="translate(633.15,57.55) scale(1,1.2)" y="13.1" font-family="Liberation Serif, serif" font-size="28.2" font-weight="bold" text-anchor="middle" class="star" stroke="#000" stroke-width="0.35">*</text><text transform="translate(1174.05,58.6) scale(1,1.2)" y="13.1" font-family="Liberation Serif, serif" font-size="28.2" font-weight="bold" text-anchor="middle" class="star" stroke="#000" stroke-width="0.35">*</text><text x="1336.5" y="119.1" font-size="27" text-anchor="start" fill="#000" id="l1" textLength="161" lengthAdjust="spacingAndGlyphs" stroke="#fff" stroke-width="0.3">Young adults</text><text x="1335.3" y="158.3" font-size="27" text-anchor="start" fill="#000" id="l2" textLength="154" lengthAdjust="spacingAndGlyphs" stroke="#fff" stroke-width="0.3">Older adults</text></g>
</svg>
</body></html>
